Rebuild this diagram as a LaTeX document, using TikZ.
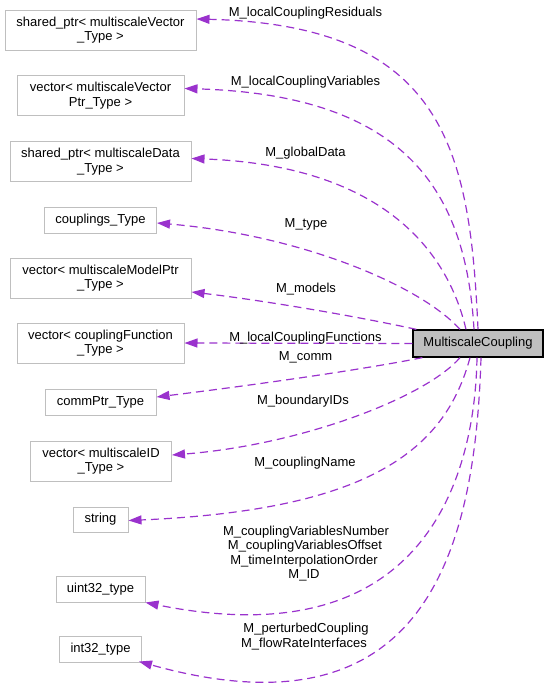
\documentclass[tikz,border=0pt]{standalone}
\usepackage{fontspec}
\setmainfont{Liberation Sans}
\usetikzlibrary{arrows.meta}
\definecolor{edgepurple}{HTML}{9A32CD}
\definecolor{boxgray}{HTML}{BFBFBF}
\tikzset{
  classbox/.style={draw=boxgray, fill=white, line width=1pt, inner sep=0pt, align=center,
    font=\fontsize{13}{14.5}\selectfont},
  mainbox/.style={draw=black, fill=boxgray, line width=1.3pt, inner sep=0pt, align=center,
    font=\fontsize{13}{14.5}\selectfont},
  uses/.style={draw=edgepurple, line width=1.2pt, dash pattern=on 8pt off 5pt,
    -{Triangle[length=13pt,width=9pt,fill=edgepurple]}},
  elabel/.style={inner sep=0pt, anchor=base, align=center, font=\fontsize{13}{14.5}\selectfont}
}
\begin{document}
\begin{tikzpicture}[x=1pt,y=-1pt]
\useasboundingbox (0,0) rectangle (549,691);
% class nodes
\node[classbox, minimum width=191pt, minimum height=40pt] (n1) at (100.5,30) {shared\_ptr< multiscaleVector\\\_Type >};
\node[classbox, minimum width=167pt, minimum height=40pt] (n2) at (100.5,95.5) {vector< multiscaleVector\\Ptr\_Type >};
\node[classbox, minimum width=181pt, minimum height=40pt] (n3) at (100.5,161.5) {shared\_ptr< multiscaleData\\\_Type >};
\node[classbox, minimum width=112pt, minimum height=26pt] (n4) at (100.5,220) {couplings\_Type};
\node[classbox, minimum width=181pt, minimum height=40pt] (n5) at (100.5,278) {vector< multiscaleModelPtr\\\_Type >};
\node[classbox, minimum width=167pt, minimum height=40pt] (n6) at (100.5,343) {vector< couplingFunction\\\_Type >};
\node[classbox, minimum width=111pt, minimum height=26pt] (n7) at (100.5,402) {commPtr\_Type};
\node[classbox, minimum width=141pt, minimum height=40pt] (n8) at (101,461) {vector< multiscaleID\\\_Type >};
\node[classbox, minimum width=55pt, minimum height=25pt] (n9) at (100.5,519.5) {string};
\node[classbox, minimum width=89pt, minimum height=26pt] (n10) at (100.5,589) {uint32\_type};
\node[classbox, minimum width=82pt, minimum height=26pt] (n11) at (100.5,649) {int32\_type};
\node[mainbox, minimum width=130pt, minimum height=27pt] (main) at (478,343.5) {MultiscaleCoupling};
% edges
\draw[uses] (main.north) .. controls (470,150) and (445,25) .. ([yshift=11pt]n1.east);
\draw[uses] ([xshift=-4pt]main.north) .. controls (466,195) and (410,95) .. ([yshift=7pt]n2.east);
\draw[uses] ([xshift=-12pt]main.north) .. controls (445,240) and (370,165) .. ([yshift=3pt]n3.east);
\draw[uses] ([xshift=-18pt]main.north) .. controls (420,285) and (300,235) .. ([yshift=-3pt]n4.east);
\draw[uses] ([xshift=4pt]main.north west) .. controls (350,315) and (260,300) .. ([yshift=-14pt]n5.east);
\draw[uses] (main.west) -- (n6.east);
\draw[uses] ([xshift=10pt]main.south west) .. controls (350,372) and (230,388) .. ([yshift=5pt]n7.east);
\draw[uses] ([xshift=-18pt]main.south) .. controls (425,398) and (300,445) .. ([yshift=6pt]n8.east);
\draw[uses] ([xshift=-8pt]main.south) .. controls (445,450) and (370,510) .. ([yshift=-1pt]n9.east);
\draw[uses] ([xshift=-1pt]main.south) .. controls (475,470) and (430,660) .. (n10.south east);
\draw[uses] ([xshift=3pt]main.south) .. controls (475,560) and (420,740) .. ([xshift=-3pt,yshift=1pt]n11.south east);
% edge labels
\node[elabel] (l1) at (305.5,16) {M\_localCouplingResiduals};
\node[elabel] (l2) at (305.5,85) {M\_localCouplingVariables};
\node[elabel] (l3) at (305.5,156) {M\_globalData};
\node[elabel] (l4) at (306,227) {M\_type};
\node[elabel] (l5) at (306,292) {M\_models};
\node[elabel] (l6) at (305.5,341) {M\_localCouplingFunctions};
\node[elabel] (l7) at (305.5,360) {M\_comm};
\node[elabel] (l8) at (303,404) {M\_boundaryIDs};
\node[elabel] (l9) at (305,466.5) {M\_couplingName};
\node[elabel] (l10a) at (306,535) {M\_couplingVariablesNumber};
\node[elabel] (l10b) at (305,549.5) {M\_couplingVariablesOffset};
\node[elabel] (l10c) at (304,564) {M\_timeInterpolationOrder};
\node[elabel] (l10d) at (304,578.5) {M\_ID};
\node[elabel] (l11a) at (306,632.5) {M\_perturbedCoupling};
\node[elabel] (l11b) at (304,647.5) {M\_flowRateInterfaces};
\end{tikzpicture}
\end{document}
